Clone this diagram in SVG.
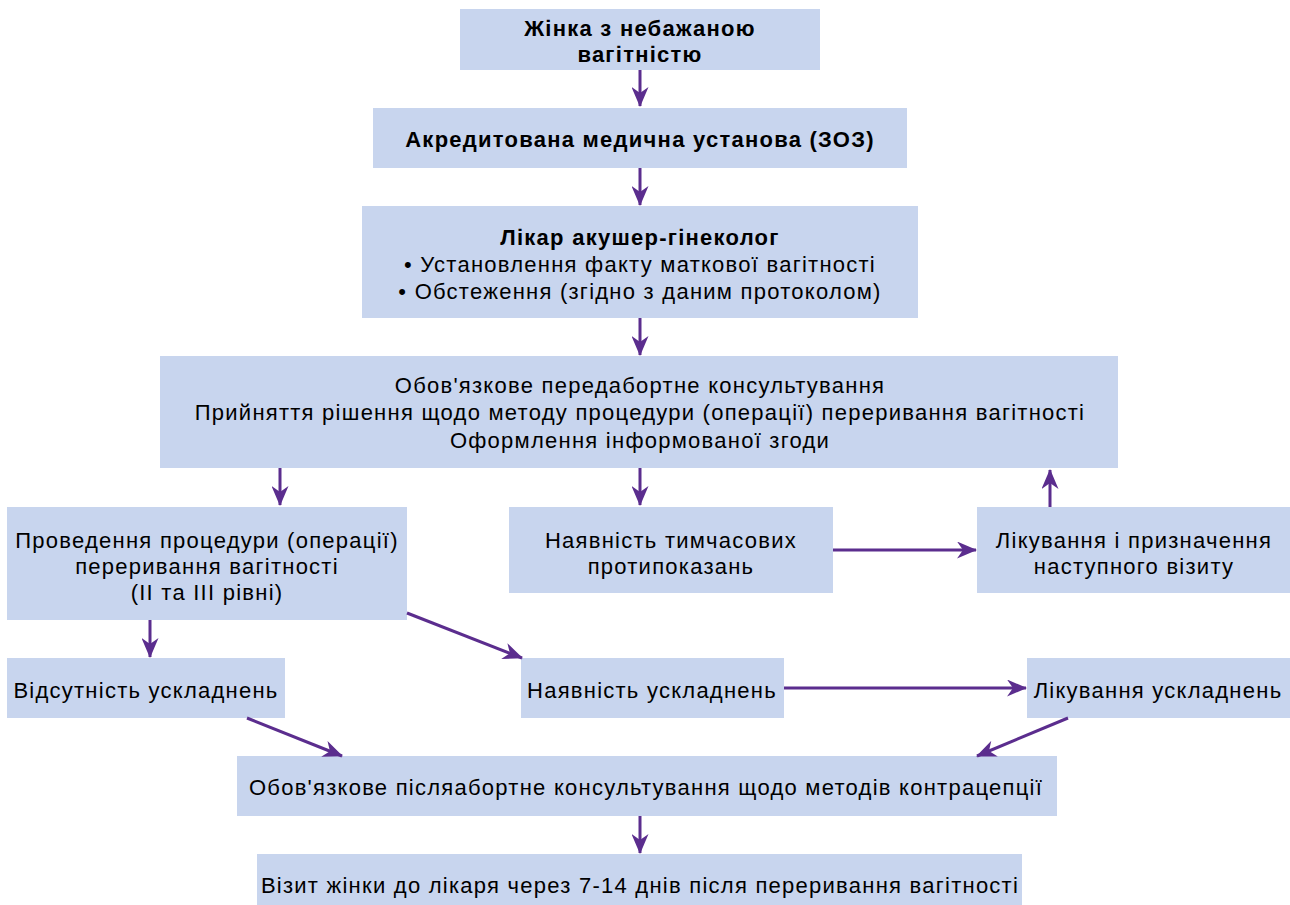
<svg xmlns="http://www.w3.org/2000/svg" width="1290" height="905" viewBox="0 0 1290 905">
<defs>
<style>
.box{fill:#C8D5EE;}
text{font-family:"Liberation Sans",Arial,sans-serif;font-size:22px;letter-spacing:1.25px;fill:#000;text-anchor:middle;}
.b{font-weight:bold;}
.c{stroke:#5B2D8E;stroke-width:3;fill:none;marker-end:url(#ah);}
</style>
<marker id="ah" viewBox="0 0 20 17" refX="19" refY="8.5" markerWidth="20" markerHeight="17" markerUnits="userSpaceOnUse" orient="auto">
<path d="M0,0 L20,8.5 L0,17 L6,8.5 Z" fill="#5B2D8E"/>
</marker>
</defs>
<rect width="1290" height="905" fill="#fff"/>
<g id="n1"><rect class="box" x="460" y="9" width="360" height="61"/>
<text class="b" x="640" y="36">Жінка з небажаною</text><text class="b" x="640" y="62">вагітністю</text></g>
<g id="n2"><rect class="box" x="373" y="108" width="534" height="60"/>
<text class="b" x="640" y="147">Акредитована медична установа (ЗОЗ)</text></g>
<g id="n3"><rect class="box" x="362" y="206" width="556" height="112"/>
<text class="b" x="640" y="245">Лікар акушер-гінеколог</text>
<text x="640" y="272">• Установлення факту маткової вагітності</text>
<text x="640" y="299">• Обстеження (згідно з даним протоколом)</text></g>
<g id="n4"><rect class="box" x="160" y="356" width="958" height="112"/>
<text x="640" y="393">Обов'язкове передабортне консультування</text>
<text x="640" y="420">Прийняття рішення щодо методу процедури (операції) переривання вагітності</text>
<text x="640" y="448">Оформлення інформованої згоди</text></g>
<g id="n5"><rect class="box" x="7" y="507" width="400" height="113"/>
<text x="207" y="548">Проведення процедури (операції)</text>
<text x="207" y="574">переривання вагітності</text>
<text x="207" y="600">(II та III рівні)</text></g>
<g id="n6"><rect class="box" x="509" y="507" width="324" height="86"/>
<text x="671" y="548">Наявність тимчасових</text>
<text x="671" y="574">протипоказань</text></g>
<g id="n7"><rect class="box" x="977" y="507" width="313" height="86"/>
<text x="1134" y="548">Лікування і призначення</text>
<text x="1134" y="574">наступного візиту</text></g>
<g id="n8"><rect class="box" x="7" y="658" width="278" height="60"/>
<text x="146" y="698">Відсутність ускладнень</text></g>
<g id="n9"><rect class="box" x="521" y="658" width="263" height="60"/>
<text x="652" y="698">Наявність ускладнень</text></g>
<g id="n10"><rect class="box" x="1027" y="658" width="263" height="60"/>
<text x="1158" y="698">Лікування ускладнень</text></g>
<g id="n11"><rect class="box" x="237" y="756" width="820" height="60"/>
<text x="646" y="795">Обов'язкове післяабортне консультування щодо методів контрацепції</text></g>
<g id="n12"><rect class="box" x="257" y="854" width="765" height="51"/>
<text x="640" y="893">Візит жінки до лікаря через 7-14 днів після переривання вагітності</text></g>
<g id="connectors">
<path class="c" d="M640,70 V106"/>
<path class="c" d="M640,168 V205"/>
<path class="c" d="M640,318 V355"/>
<path class="c" d="M280,468 V505"/>
<path class="c" d="M640,468 V505"/>
<path class="c" d="M1050,507 V470"/>
<path class="c" d="M833,550 H976"/>
<path class="c" d="M150,620 V657"/>
<path class="c" d="M407,613 L522,658"/>
<path class="c" d="M784,688 H1026"/>
<path class="c" d="M247,718 L342,756"/>
<path class="c" d="M1068,718 L977,756"/>
<path class="c" d="M640,816 V853"/>
</g>
</svg>
